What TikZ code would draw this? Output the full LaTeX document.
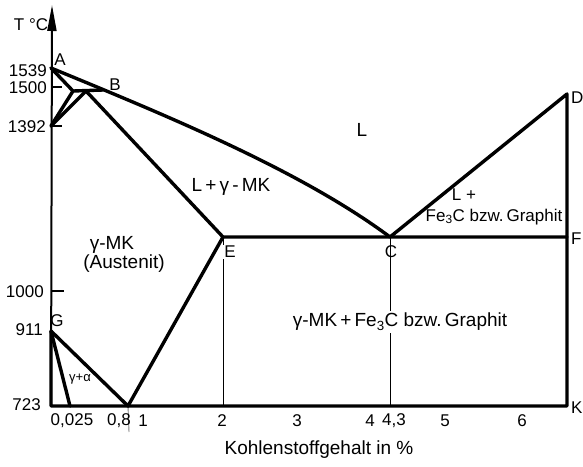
\documentclass[tikz,border=0pt]{standalone}
\usepackage{fontspec}
\setmainfont{Liberation Sans}
\usetikzlibrary{arrows.meta}
\begin{document}
\begin{tikzpicture}[x=1pt,y=-1pt,
  phase/.style={line width=3.4pt, line cap=round, line join=round},
  axisline/.style={line width=2pt},
  hair/.style={line width=0.9pt},
  tickmark/.style={line width=1.2pt},
  numlbl/.style={inner sep=0pt, font=\fontsize{17}{20}\selectfont},
  ptlbl/.style={inner sep=0pt, font=\fontsize{17}{20}\selectfont},
  reglbl/.style={inner sep=0pt, font=\fontsize{19}{22}\selectfont},
  smalllbl/.style={inner sep=0pt, font=\fontsize{17}{20}\selectfont},
]
\useasboundingbox (0,0) rectangle (583,466);

% key points
\coordinate (A) at (51,68);
\coordinate (H) at (73,91);
\coordinate (J) at (86,91);
\coordinate (B) at (103,90);
\coordinate (N) at (51,126);
\coordinate (C) at (390,237);
\coordinate (D) at (567,94);
\coordinate (E) at (223,237);
\coordinate (F) at (567,237);
\coordinate (G) at (51,331);
\coordinate (P) at (70,406);
\coordinate (S) at (128,406);
\coordinate (K) at (567,406);
\coordinate (O) at (51,406);
\coordinate (Top) at (52,5);
\coordinate (Ebot) at (223,406);
\coordinate (Cbot) at (390,406);
\coordinate (Sbot) at (129,432);

% axis
\draw[axisline,-{Triangle[length=26pt,width=9pt]}] (O) -- (Top);
\coordinate (k1500a) at (51,87); \coordinate (k1500b) at (62,87);
\coordinate (k1392a) at (51,126); \coordinate (k1392b) at (62,126);
\coordinate (k1000a) at (51,291); \coordinate (k1000b) at (64,291);
\draw[tickmark] (k1500a) -- (k1500b);
\draw[tickmark] (k1392a) -- (k1392b);
\draw[tickmark] (k1000a) -- (k1000b);

% thin verticals
\draw[hair] (E) -- (Ebot);
\draw[hair] (C) -- (Cbot);
\draw[hair, gray] (S) -- (Sbot);

% phase lines
\draw[phase] (A) .. controls (165,115) and (300,170) .. (C) -- (D) -- (K) -- (O) -- (G);
\draw[phase] (A) -- (H) -- (B);
\draw[phase] (N) -- (H);
\draw[phase] (N) -- (J);
\draw[phase] (J) -- (E) -- (F);
\draw[phase] (G) -- (S) -- (E);
\draw[phase] (G) -- (P);

% axis labels
\node[numlbl] (tc) at (31,25) {T °C};
\node[numlbl, anchor=east] (t1539) at (47,71) {1539};
\node[numlbl, anchor=east] (t1500) at (47,88) {1500};
\node[numlbl, anchor=east] (t1392) at (46,127) {1392};
\node[numlbl, anchor=east] (t1000) at (44,292) {1000};
\node[numlbl, anchor=east] (t911) at (43,330) {911};
\node[numlbl, anchor=east] (t723) at (41,405) {723};

\node[numlbl] (x0025) at (72,421) {0,025};
\node[numlbl] (x08) at (119,421) {0,8};
\node[numlbl] (x1) at (143,421) {1};
\node[numlbl] (x2) at (222,421) {2};
\node[numlbl] (x3) at (297,421) {3};
\node[numlbl] (x4) at (370,421) {4};
\node[numlbl] (x43) at (394,421) {4,3};
\node[numlbl] (x5) at (445,421) {5};
\node[numlbl] (x6) at (522,421) {6};
\node[reglbl] (xlab) at (319,450) {Kohlenstoffgehalt in \%};

% point labels
\node[ptlbl] (lA) at (60,60) {A};
\node[ptlbl] (lB) at (115,85) {B};
\node[ptlbl] (lC) at (391,252) {C};
\node[ptlbl, anchor=west] (lD) at (571,98) {D};
\node[ptlbl, fill=white, inner sep=1pt] (lE) at (230,252) {E};
\node[ptlbl, anchor=west] (lF) at (571,239) {F};
\node[ptlbl] (lG) at (57,321) {G};
\node[ptlbl, anchor=west] (lK) at (571,408) {K};

% region labels
\node[reglbl] (rL) at (362,130) {L};
\node[reglbl] (rLg) at (231,187) {L\,+\,γ\,-\,MK};
\node[reglbl] (rg) at (112,245) {γ-MK};
\node[reglbl] (rAus) at (124,264) {(Austenit)};
\node[smalllbl] (rL2) at (464,195) {L +};
\node[smalllbl] (rFe) at (494,217) {Fe\textsubscript{3}C bzw.\,Graphit};
\node[reglbl, fill=white, inner sep=2pt] (rgFe) at (400,322) {γ-MK\,+\,Fe\textsubscript{3}C bzw.\,Graphit};
\node[inner sep=0pt, font=\fontsize{13}{15}\selectfont] (rga) at (80,379) {γ+α};
\end{tikzpicture}
\end{document}
